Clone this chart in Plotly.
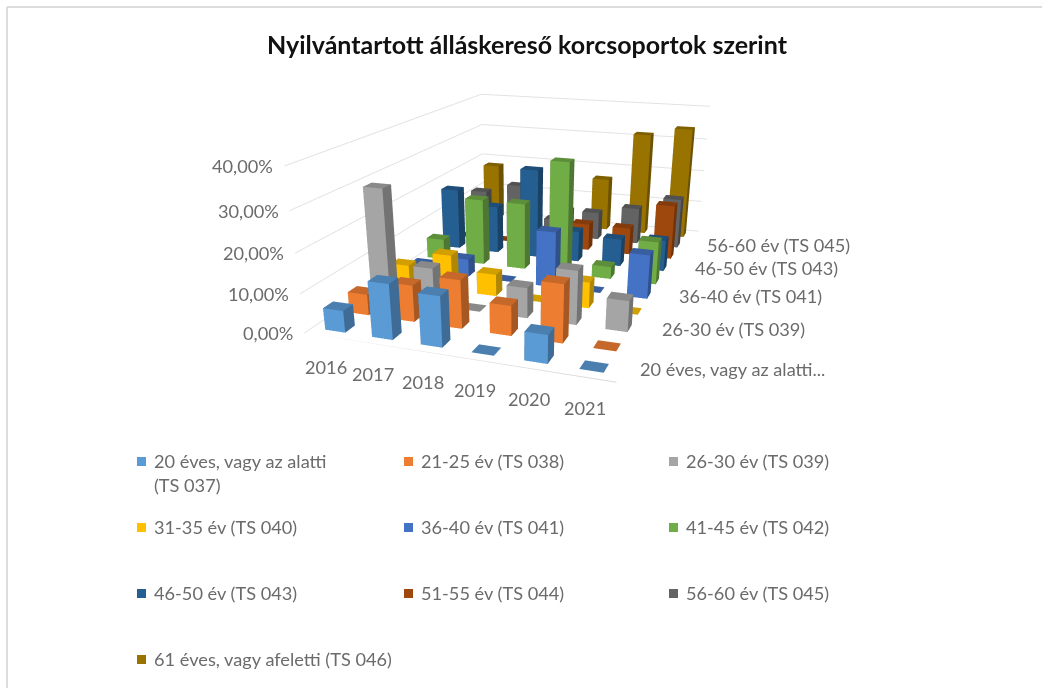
import plotly.graph_objects as go

W, H = 1042, 688
years = ["2016", "2017", "2018", "2019", "2020", "2021"]
series = ["20 éves, vagy az alatti (TS 037)", "21-25 év (TS 038)", "26-30 év (TS 039)",
          "31-35 év (TS 040)", "36-40 év (TS 041)", "41-45 év (TS 042)",
          "46-50 év (TS 043)", "51-55 év (TS 044)", "56-60 év (TS 045)",
          "61 éves, vagy afeletti (TS 046)"]
s037 = [5.6, 14.0, 12.7, 0.0, 7.0, 0.0]
s038 = [5.5, 9.5, 12.5, 7.7, 14.7, 0.0]
s039 = [29.5, 10.0, 0.0, 8.0, 14.0, 8.0]
s040 = [5.5, 9.8, 6.0, 0.0, 7.0, 0.0]
s041 = [2.0, 5.0, 0.0, 15.5, 0.0, 12.0]
s042 = [6.0, 19.0, 19.0, 31.7, 3.5, 12.0]
s043 = [18.0, 14.0, 26.0, 9.0, 8.0, 9.0]
s044 = [0.0, 0.0, 2.0, 8.0, 8.0, 16.0]
s045 = [12.0, 15.0, 5.0, 8.5, 11.0, 15.0]
s046 = [18.0, 5.0, 5.0, 16.5, 31.5, 34.0]
values = [s037, s038, s039, s040, s041, s042, s043, s044, s045, s046]
z_ticks = [0, 10, 20, 30, 40]
z_labels = ["0,00%", "10,00%", "20,00%", "30,00%", "40,00%"]
y_labels = {0: "20 éves, vagy az alatti...", 2: "26-30 év (TS 039)", 4: "36-40 év (TS 041)",
            6: "46-50 év (TS 043)", 8: "56-60 év (TS 045)"}
front = ["#5b9bd5", "#ed7d31", "#a5a5a5", "#ffc000", "#4472c4", "#70ad47",
         "#255e91", "#9e480e", "#636363", "#997300"]
top = ["#4a7fb0", "#c5682a", "#898989", "#d29f00", "#385e9f", "#5d8f3a",
       "#1f4e78", "#843c0c", "#525252", "#7f6000"]
side = ["#3e6c97", "#a65722", "#737373", "#b08700", "#2f5088", "#4e7832",
        "#1a4265", "#6f320a", "#454545", "#6b5100"]

xlo, xhi = -0.5, len(years) - 0.5
ylo, yhi = -0.5, len(series) - 0.5

BWX, BWY = 0.43, 0.40
fig = go.Figure()

FACES = [
    (0, 1, 5, "f"), (0, 5, 4, "f"),
    (1, 2, 6, "s"), (1, 6, 5, "s"),
    (4, 5, 6, "t"), (4, 6, 7, "t"),
    (2, 3, 7, "s"), (2, 7, 6, "s"),
    (3, 0, 4, "s"), (3, 4, 7, "s"),
]

for si, vals in enumerate(values):
    xs, ys, zs, ii, jj, kk, fc = [], [], [], [], [], [], []
    for yi, v in enumerate(vals):
        n = len(xs)
        x0, x1 = yi - BWX / 2, yi + BWX / 2
        y0, y1 = si - BWY / 2, si + BWY / 2
        xs += [x0, x1, x1, x0, x0, x1, x1, x0]
        ys += [y0, y0, y1, y1, y0, y0, y1, y1]
        zs += [0, 0, 0, 0, v, v, v, v]
        for a, b, c_, kind in FACES:
            ii.append(n + a); jj.append(n + b); kk.append(n + c_)
            fc.append({"f": front, "s": side, "t": top}[kind][si])
    fig.add_trace(go.Mesh3d(x=xs, y=ys, z=zs, i=ii, j=jj, k=kk, facecolor=fc,
                            flatshading=True, name=series[si], hoverinfo="name",
                            lighting=dict(ambient=1, diffuse=0, specular=0, roughness=1, fresnel=0)))

fig.add_trace(go.Scatter3d(x=[xlo, xhi], y=[ylo, ylo], z=[0, 0], mode="lines",
                           line=dict(color="#d9d9d9", width=2), hoverinfo="skip"))

TICK = dict(family="Lato, sans-serif", size=18.2, color="#6b6b6b")
scene_ann = []
for t_, lab in zip(z_ticks, z_labels):
    scene_ann.append(dict(x=xlo, y=ylo, z=t_, text=lab, showarrow=False, xanchor="right",
                          xshift=-9, font=TICK))
for i, lab in enumerate(years):
    scene_ann.append(dict(x=i, y=ylo, z=0, text=lab, showarrow=False, xanchor="center",
                          yshift=-30, xshift=-2, font=TICK))
for i, lab in y_labels.items():
    scene_ann.append(dict(x=xhi, y=i, z=0, text=lab, showarrow=False, xanchor="left",
                          xshift=15, yshift=1.5, font=TICK))

hidden = dict(showticklabels=False, showbackground=False, zeroline=False, showspikes=False,
              showline=False, title=dict(text=""), ticks="")

fig.update_layout(
    width=W, height=H, margin=dict(l=0, r=0, t=0, b=0), paper_bgcolor="white",
    showlegend=False,
    scene=dict(
        domain=dict(x=[0, 1], y=[0, 1]),
        xaxis=dict(range=[xlo, xhi], showgrid=False, **hidden),
        yaxis=dict(range=[ylo, yhi], showgrid=False, **hidden),
        zaxis=dict(range=[0, 40], tickvals=z_ticks, showgrid=True, gridcolor="#e2e2e2", gridwidth=2, **hidden),
        aspectmode="manual", aspectratio=dict(x=1, y=1.5032, z=0.5246),
        camera=dict(eye=dict(x=0.9347, y=-2.7649, z=0.7948), center=dict(x=-0.0058, y=-0.1154, z=-0.4998),
                    up=dict(x=-0.0069, y=0.03, z=1), projection=dict(type="perspective")),
        annotations=scene_ann,
    ),
)

def px(x): return x / W
def py(y): return 1 - y / H

anns = [dict(xref="paper", yref="paper", x=px(527), y=py(44), yanchor="middle",
             text="<b>Nyilvántartott álláskereső korcsoportok szerint</b>",
             showarrow=False, font=dict(family="Lato, sans-serif", size=25, color="#111111"))]
shapes = [dict(type="line", xref="paper", yref="paper", x0=px(7), x1=px(W), y0=py(7), y1=py(7), line=dict(color="#dcdcdc", width=2)),
          dict(type="line", xref="paper", yref="paper", x0=px(7), x1=px(7), y0=py(7), y1=py(H), line=dict(color="#dcdcdc", width=2))]
colx = [137, 404, 669]
rowy = [461, 527, 593, 659]
LEG = dict(family="Lato, sans-serif", size=18.2, color="#6b6b6b")
for si, name in enumerate(series):
    r, c_ = si // 3, si % 3
    x, y = colx[c_], rowy[r]
    shapes.append(dict(type="rect", xref="paper", yref="paper", x0=px(x), x1=px(x + 9), y0=py(y - 4), y1=py(y + 5),
                       fillcolor=front[si], line=dict(width=0)))
    label = name if si else "20 éves, vagy az alatti<br>(TS 037)"
    anns.append(dict(xref="paper", yref="paper", x=px(x + 15), y=py(y - 13), text=label, align="left",
                     xanchor="left", yanchor="top", showarrow=False, font=LEG))
fig.update_layout(annotations=anns, shapes=shapes)
fig.write_html("out.html", config=dict(displayModeBar=False), post_script="document.body.style.margin='0';")
